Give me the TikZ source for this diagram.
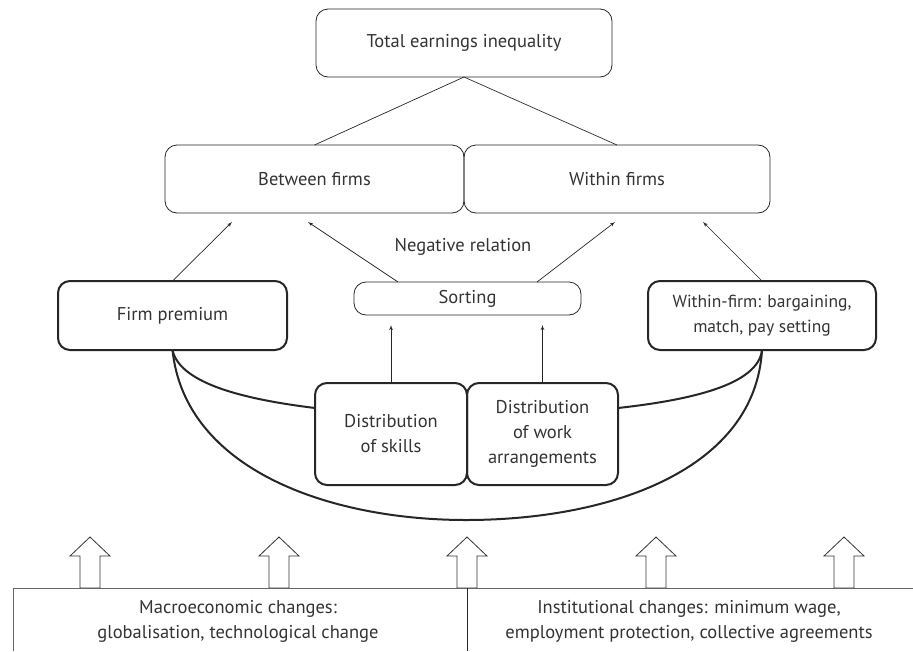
\documentclass[tikz,border=0pt]{standalone}
\usepackage{fontspec}
\setmainfont{PT Sans}
\usetikzlibrary{arrows, positioning, calc}

\begin{document}
\begin{tikzpicture}[x=1pt, y=-1pt, >=latex', font=\fontsize{18.5}{25}\selectfont, text=black!80]
  \tikzstyle{box} = [draw=black!85, rounded corners=12pt, align=center, inner sep=0pt, outer sep=0pt, line width=0.8pt]
  \tikzstyle{heavy} = [box, line width=2pt]
  \tikzstyle{link} = [->, draw=black!85, line width=0.7pt]
  \tikzstyle{curve} = [draw=black!85, line width=2pt]

  \useasboundingbox (0,0) rectangle (913,651);

  % top of the tree
  \node[box, minimum width=296pt, minimum height=68pt] (Total) at (464,43) {Total earnings inequality};
  \node[box, minimum width=299pt, minimum height=68pt] (Between) at (314.5,179) {Between firms};
  \node[box, minimum width=306pt, minimum height=68pt, right=0pt of Between] (Within) {Within firms};

  \draw[draw=black!85, line width=0.7pt] (Total.south) -- (Between.north);
  \draw[draw=black!85, line width=0.7pt] (Total.south) -- (Within.north);

  % sources
  \node (Negative) at (463,247) {Negative relation};
  \node[box, minimum width=227pt, minimum height=33pt] (Sorting) at (467.5,298.5) {Sorting};
  \node[heavy, minimum width=229pt, minimum height=69pt] (Premium) at (172.5,315.5) {Firm premium};
  \node[heavy, minimum width=228pt, minimum height=69pt, font=\fontsize{17.5}{25}\selectfont] (WithinFirm) at (762,315.5) {Within-firm: bargaining,\\match, pay setting};
  \node[heavy, minimum width=152pt, minimum height=102pt] (Skills) at (391,434) {Distribution\\of skills};
  \node[heavy, minimum width=151pt, minimum height=102pt, right=0pt of Skills] (Work) {Distribution\\of work\\arrangements};

  \draw[link] (Premium.north) -- ($(Between.south west)+(67,9)$);
  \draw[link] ($(Sorting.north west)+(44,0)$) -- ($(Between.south west)+(143,9)$);
  \draw[link] ($(Sorting.north east)+(-44,0)$) -- ($(Within.south west)+(151,9)$);
  \draw[link] (WithinFirm.north) -- ($(Within.south west)+(239,9)$);
  \draw[link, shorten >=10pt] (Skills.north) -- (Skills.north |- Sorting.south);
  \draw[link, shorten >=10pt] (Work.north) -- (Work.north |- Sorting.south);

  % the bowl
  \draw[curve] (Premium.south) .. controls (180,385) and (250,400) .. ($(Skills.west)+(0,-26)$);
  \draw[curve] ($(Work.east)+(0,-26)$) .. controls (690,400) and (758,385) .. (WithinFirm.south);
  \draw[curve] (Premium.south) .. controls (185,470) and (330,520) .. (466,520)
    .. controls (610,520) and (755,470) .. (WithinFirm.south);

  % drivers at the bottom
  \foreach \x in {90,279,467,656,844}
    \draw[draw=black!80, line width=0.8pt, fill=white] (\x-10,588) -- (\x-10,556) -- (\x-20,556)
      -- (\x,537) -- (\x+20,556) -- (\x+10,556) -- (\x+10,588) -- cycle;
  \draw[draw=black!60, line width=0.8pt] (13,651) -- (13,588) -- (913,588);
  \draw[draw=black!85, line width=0.8pt] (467,588) -- (467,651);

  \node[align=center] (Macro) at (238,621) {Macroeconomic changes:\\globalisation, technological change};
  \node[align=center] (Institutional) at (689,621) {Institutional changes: minimum wage,\\employment protection, collective agreements};
\end{tikzpicture}
\end{document}
